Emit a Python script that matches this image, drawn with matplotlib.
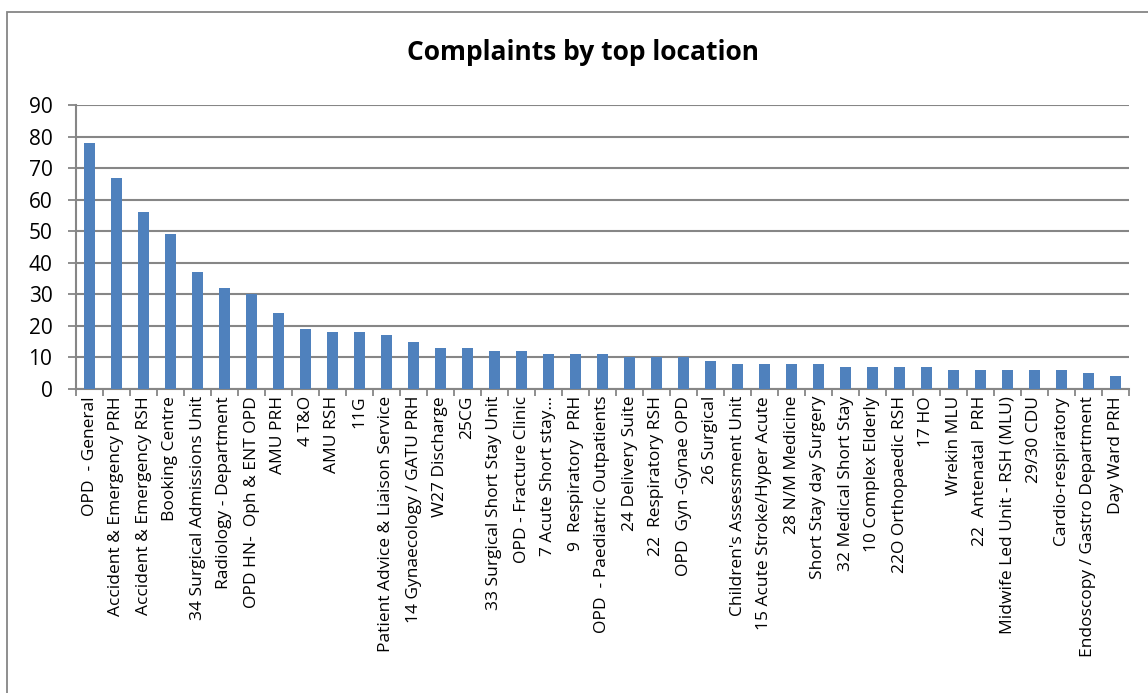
import matplotlib
matplotlib.use("Agg")
from matplotlib import pyplot as plt
from matplotlib.patches import Rectangle
import numpy as np

locations = [
    "OPD  - General", "Accident & Emergency PRH", "Accident & Emergency RSH",
    "Booking Centre", "34 Surgical Admissions Unit", "Radiology - Department",
    "OPD HN-  Oph & ENT OPD", "AMU PRH", "4 T&O", "AMU RSH", "11G",
    "Patient Advice & Liaison Service", "14 Gynaecology / GATU PRH",
    "W27 Discharge", "25CG", "33 Surgical Short Stay Unit",
    "OPD - Fracture Clinic", "7 Acute Short stay\u2026", "9  Respiratory  PRH",
    "OPD  - Paediatric Outpatients", "24 Delivery Suite", "22  Respiratory RSH",
    "OPD  Gyn -Gynae OPD", "26 Surgical", "Children's Assessment Unit",
    "15 Acute Stroke/Hyper Acute", "28 N/M Medicine", "Short Stay day Surgery",
    "32 Medical Short Stay", "10 Complex Elderly", "22O Orthopaedic RSH",
    "17 HO", "Wrekin MLU", "22  Antenatal  PRH",
    "Midwife Led Unit - RSH (MLU)", "29/30 CDU", "Cardio-respiratory",
    "Endoscopy / Gastro Department", "Day Ward PRH",
]
complaints = [78, 67, 56, 49, 37, 32, 30, 24, 19, 18, 18, 17, 15, 13, 13, 12,
              12, 11, 11, 11, 10, 10, 10, 9, 8, 8, 8, 8, 7, 7, 7, 7, 6, 6, 6,
              6, 6, 5, 4]
y_ticks = [0, 10, 20, 30, 40, 50, 60, 70, 80, 90]

plt.rcParams['font.family'] = ['Open Sans', 'DejaVu Sans']
grey = '#868686'

fig = plt.figure(figsize=(11.48, 6.93), dpi=100)
ax = fig.add_axes([76/1148, 1-389/693, (1129-76)/1148, (389-105)/693])

x = np.arange(len(locations))
ax.bar(x, complaints, width=0.4, color='#4f81bd', zorder=3)

ax.set_xlim(-0.5, len(locations)-0.5)
ax.set_ylim(0, 90)
ax.set_yticks(y_ticks)
ax.tick_params(axis='y', labelsize=15, length=6, width=1.3, color=grey, pad=11)
ax.yaxis.grid(True, color=grey, linewidth=1.5, zorder=0)

ax.set_xticks(x)
ax.set_xticklabels(locations, rotation=90, fontsize=12.5)
ax.tick_params(axis='x', length=0, pad=5)
ax.set_xticks(np.arange(-0.5, len(locations)), minor=True)
ax.tick_params(axis='x', which='minor', length=5, width=1.3, color=grey)

for s in ['top', 'right']:
    ax.spines[s].set_visible(False)
for s in ['left', 'bottom']:
    ax.spines[s].set_color(grey)
    ax.spines[s].set_linewidth(1.5)

fig.text(583/1148, 1-53/693, "Complaints by top location", ha='center',
         va='center', fontsize=19, fontweight='bold')

fig.patches.append(Rectangle((7/1148, -0.1), 1.2, 1-12/693+0.1,
                             transform=fig.transFigure, fill=False,
                             edgecolor=grey, linewidth=1.3))

fig.savefig("out.png", dpi=100)
